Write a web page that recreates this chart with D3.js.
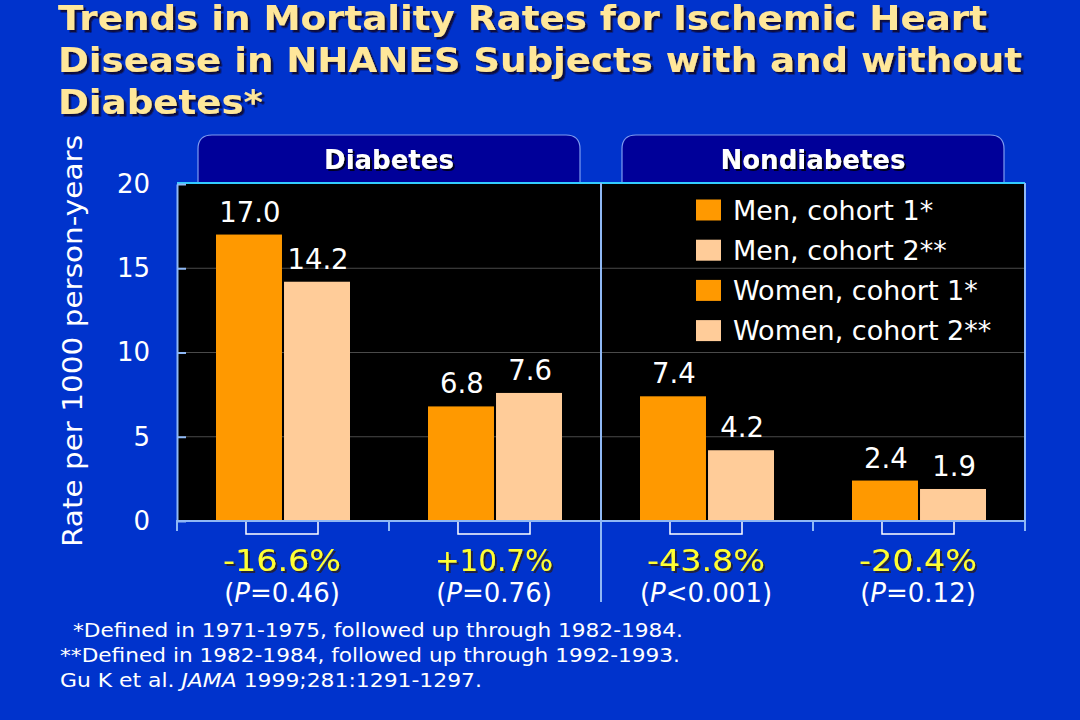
<!DOCTYPE html>
<html>
<head>
<meta charset="utf-8">
<script src="https://cdn.jsdelivr.net/npm/d3@7"></script>
<style>
  html, body { margin: 0; padding: 0; background: #0033CC; }
  svg { display: block; }
  text { font-family: Verdana, "DejaVu Sans", sans-serif; }
</style>
</head>
<body>
<svg id="chart" width="1080" height="720"></svg>
<script>
// ---------- data ----------
const titleLines = [
  "Trends in Mortality Rates for Ischemic Heart",
  "Disease in NHANES Subjects with and without",
  "Diabetes*"
];
const panels = ["Diabetes", "Nondiabetes"];
const groups = ["Diabetes men", "Diabetes women", "Nondiabetes men", "Nondiabetes women"];
const seriesKeys = ["cohort1", "cohort2"];
const cohort1 = [17.0, 6.8, 7.4, 2.4];
const cohort2 = [14.2, 7.6, 4.2, 1.9];
const changes = ["-16.6%", "+10.7%", "-43.8%", "-20.4%"];
const pOps = ["=", "=", "<", "="];
const pValues = ["0.46", "0.76", "0.001", "0.12"];
const legendLabels = ["Men, cohort 1*", "Men, cohort 2**", "Women, cohort 1*", "Women, cohort 2**"];
const legendSeries = ["cohort1", "cohort2", "cohort1", "cohort2"];
const yTicks = [0, 5, 10, 15, 20];
const yTitle = "Rate per 1000 person-years";
const footnotes = [
  "*Defined in 1971-1975, followed up through 1982-1984.",
  "**Defined in 1982-1984, followed up through 1992-1993."
];
const citeA = "Gu K et al. ", citeB = "JAMA", citeC = " 1999;281:1291-1297.";

// ---------- setup ----------
const svg = d3.select("#chart");
const color = d3.scaleOrdinal().domain(seriesKeys).range(["#FF9900", "#FFCC99"]);
const lineCol = "#8FB8F5";

const defs = svg.append("defs");
const mkShadow = (id, dx, dy, col) => {
  defs.append("filter").attr("id", id).attr("x", "-5%").attr("y", "-20%").attr("width", "115%").attr("height", "150%")
    .append("feDropShadow").attr("dx", dx).attr("dy", dy).attr("stdDeviation", 0.6)
    .attr("flood-color", col).attr("flood-opacity", 1);
};
mkShadow("shTitle", 2.5, 2.5, "#101040");
mkShadow("shTab", 2, 2, "#000022");
mkShadow("shPct", 2, 2, "#202040");

const plot = { left: 177, right: 1025, top: 183, bottom: 521 };
const x = d3.scaleBand().domain(groups).range([plot.left, plot.right]).padding(0);
const bw = x.bandwidth();
const xs = d3.scaleBand().domain(seriesKeys).range([bw / 2 - 67, bw / 2 + 67]).paddingInner(0.03);
const y = d3.scaleLinear().domain([0, 20]).range([521, 184]);
const panelX = d3.scaleBand().domain(panels).range([plot.left, plot.right]);

svg.append("rect").attr("width", 1080).attr("height", 720).attr("fill", "#0033CC");

// ---------- title ----------
const titleLengths = [929, 964, 205];
titleLines.forEach((t, i) => {
  svg.append("text").attr("x", 58).attr("y", 30 + i * 42)
    .attr("font-size", 33).attr("font-weight", "bold").attr("fill", "#FFE79A")
    .attr("filter", "url(#shTitle)")
    .attr("textLength", titleLengths[i]).attr("lengthAdjust", "spacingAndGlyphs").text(t);
});

// ---------- panel tabs ----------
panels.forEach(p => {
  const cx = panelX(p) + panelX.bandwidth() / 2;
  const l = cx - 191, r = cx + 191, t = 135, b = 186, rad = 14;
  const path = `M${l},${b} L${l},${t + rad} Q${l},${t} ${l + rad},${t} L${r - rad},${t} Q${r},${t} ${r},${t + rad} L${r},${b}`;
  svg.append("path").attr("d", path).attr("fill", "#000099").attr("stroke", "#7E9CF0").attr("stroke-width", 1.2);
  svg.append("text").attr("x", cx).attr("y", 169).attr("text-anchor", "middle")
    .attr("font-size", 26).attr("font-weight", "bold").attr("fill", "#FFFFFF")
    .attr("filter", "url(#shTab)").text(p);
});

// ---------- plot area ----------
svg.append("rect").attr("x", plot.left).attr("y", plot.top)
  .attr("width", plot.right - plot.left).attr("height", plot.bottom - plot.top).attr("fill", "#000000");

// gridlines
svg.append("g").selectAll("line").data(yTicks.filter(d => d > 0 && d < 20)).join("line")
  .attr("x1", plot.left).attr("x2", plot.right)
  .attr("y1", d => y(d)).attr("y2", d => y(d))
  .attr("stroke", "#4a4a4a").attr("stroke-width", 1);

// legend
const lg = svg.append("g");
legendLabels.forEach((lab, i) => {
  const cy = 210 + i * 40.2;
  lg.append("rect").attr("x", 696).attr("y", cy - 10.5).attr("width", 25).attr("height", 21)
    .attr("fill", color(legendSeries[i]));
  lg.append("text").attr("x", 733).attr("y", cy).attr("dy", "0.36em")
    .attr("font-size", 27).attr("fill", "#FFFFFF").text(lab);
});

// bars
const data = groups.map((g, i) => ({ group: g, values: [
  { key: "cohort1", value: cohort1[i] },
  { key: "cohort2", value: cohort2[i] }
]}));
const gg = svg.append("g").selectAll("g").data(data).join("g")
  .attr("transform", d => `translate(${x(d.group)},0)`);
gg.selectAll("rect").data(d => d.values).join("rect")
  .attr("x", d => xs(d.key)).attr("width", xs.bandwidth())
  .attr("y", d => y(d.value)).attr("height", d => y(0) - y(d.value))
  .attr("fill", d => color(d.key));
gg.selectAll("text.val").data(d => d.values).join("text").attr("class", "val")
  .attr("x", d => xs(d.key) + xs.bandwidth() / 2 + 1)
  .attr("y", d => y(d.value) - 13)
  .attr("text-anchor", "middle").attr("font-size", 27.5).attr("fill", "#FFFFFF")
  .text(d => d.value.toFixed(1));

// brackets under each group
gg.append("path")
  .attr("d", () => {
    const a = xs("cohort1") + xs.bandwidth() / 2 - 3, b = xs("cohort2") + xs.bandwidth() / 2 + 1;
    return `M${a},${y(0)} L${a},${y(0) + 13} L${b},${y(0) + 13} L${b},${y(0)}`;
  })
  .attr("fill", "none").attr("stroke", "#FFFFFF").attr("stroke-width", 1.5);

// plot borders
svg.append("line").attr("x1", plot.left).attr("x2", plot.right).attr("y1", plot.top).attr("y2", plot.top)
  .attr("stroke", "#33CCFF").attr("stroke-width", 2);
svg.append("line").attr("x1", plot.right).attr("x2", plot.right).attr("y1", plot.top).attr("y2", plot.bottom)
  .attr("stroke", lineCol).attr("stroke-width", 2);
// panel divider
svg.append("line").attr("x1", panelX("Nondiabetes")).attr("x2", panelX("Nondiabetes"))
  .attr("y1", plot.top).attr("y2", 602).attr("stroke", lineCol).attr("stroke-width", 2);

// y axis
const yAxis = d3.axisLeft(y).tickValues(yTicks).tickSizeInner(-9).tickSizeOuter(0).tickPadding(27);
const ya = svg.append("g").attr("transform", `translate(${plot.left},0)`).call(yAxis);
ya.select(".domain").attr("stroke", lineCol).attr("stroke-width", 2);
ya.selectAll(".tick line").attr("stroke", lineCol).attr("stroke-width", 2);
ya.selectAll(".tick text").attr("font-size", 26).attr("fill", "#FFFFFF")
  .attr("font-family", 'Verdana, "DejaVu Sans", sans-serif');

// x axis line + boundary ticks
svg.append("line").attr("x1", plot.left - 1).attr("x2", plot.right + 1).attr("y1", y(0)).attr("y2", y(0))
  .attr("stroke", lineCol).attr("stroke-width", 2);
const bounds = groups.map(g => x(g)).concat([plot.right]);
svg.append("g").selectAll("line").data(bounds).join("line")
  .attr("x1", d => d).attr("x2", d => d).attr("y1", y(0)).attr("y2", y(0) + 10)
  .attr("stroke", lineCol).attr("stroke-width", 2);

// y-axis title
svg.append("text").attr("transform", "translate(82,341) rotate(-90)")
  .attr("text-anchor", "middle").attr("font-size", 27).attr("fill", "#FFFFFF")
  .attr("textLength", 412).attr("lengthAdjust", "spacingAndGlyphs").text(yTitle);

// change labels
groups.forEach((g, i) => {
  const cx = x(g) + bw / 2 - 1;
  svg.append("text").attr("x", cx).attr("y", 571).attr("text-anchor", "middle")
    .attr("font-size", 30).attr("fill", "#FFFF33").attr("filter", "url(#shPct)")
    .attr("textLength", changes[i].length * 19.7).attr("lengthAdjust", "spacingAndGlyphs").text(changes[i]);
  const pt = svg.append("text").attr("x", cx).attr("y", 602).attr("text-anchor", "middle")
    .attr("font-size", 26).attr("fill", "#FFFFFF");
  pt.append("tspan").text("(");
  pt.append("tspan").attr("font-style", "italic").text("P");
  pt.append("tspan").text(pOps[i] + pValues[i] + ")");
});

// footnotes
const fnX = [73, 60];
const fnLen = [610, 620];
footnotes.forEach((f, i) => {
  svg.append("text").attr("x", fnX[i]).attr("y", 637 + i * 25)
    .attr("font-size", 19).attr("fill", "#FFFFFF")
    .attr("textLength", fnLen[i]).attr("lengthAdjust", "spacingAndGlyphs").text(f);
});
const cite = svg.append("text").attr("x", 60).attr("y", 687).attr("font-size", 19).attr("fill", "#FFFFFF")
  .attr("textLength", 422).attr("lengthAdjust", "spacingAndGlyphs");
cite.append("tspan").text(citeA);
cite.append("tspan").attr("font-style", "italic").text(citeB);
cite.append("tspan").text(citeC);
</script>
</body>
</html>
